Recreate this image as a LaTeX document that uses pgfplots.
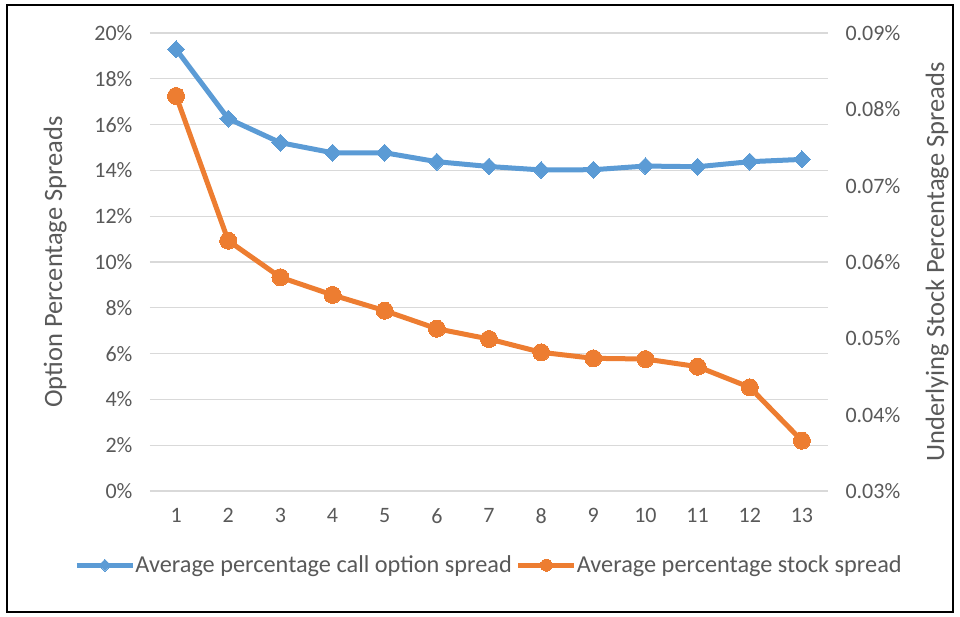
\documentclass[border=0pt]{standalone}
\usepackage{pgfplots}
\pgfplotsset{compat=1.18}
\usepackage{fontspec}
\setmainfont{Carlito}

\definecolor{callblue}{HTML}{5B9BD5}
\definecolor{stockorange}{HTML}{ED7D31}
\definecolor{txtgray}{HTML}{595959}
\definecolor{gridgray}{HTML}{D9D9D9}

% average percentage call option spread (left axis, %)
\pgfplotstableread{
x  y
1  19.29
2  16.26
3  15.21
4  14.77
5  14.77
6  14.38
7  14.17
8  14.02
9  14.03
10 14.19
11 14.16
12 14.38
13 14.48
}\calltable

% average percentage stock spread (right axis, %)
\pgfplotstableread{
x  y
1  0.08175
2  0.06279
3  0.05800
4  0.05568
5  0.05362
6  0.05126
7  0.04991
8  0.04817
9  0.04738
10 0.04729
11 0.04629
12 0.04358
13 0.03659
}\stocktable

\pgfplotsset{
  chartbase/.style={
    scale only axis,
    width=678pt, height=458pt,
    at={(0pt,0pt)}, anchor=south west,
    xmin=0.5, xmax=13.5,
    axis line style={draw=none},
    major tick length=0pt,
    tick label style={font=\fontsize{22}{26}\selectfont, text=txtgray},
    label style={font=\fontsize{26.5}{30}\selectfont, text=txtgray},
    /pgf/number format/assume math mode=true,
  },
  callstyle/.style={callblue, line width=5pt, line join=round,
    mark=square*, mark size=6pt,
    mark options={rotate=45, line width=0pt, fill=callblue}},
  stockstyle/.style={stockorange, line width=5pt, line join=round,
    mark=*, mark size=8.5pt,
    mark options={line width=0pt, fill=stockorange}},
}

\begin{document}
\begin{tikzpicture}
\useasboundingbox (-150pt,-126pt) rectangle (810pt,491pt);
\draw[black, line width=1.6pt] (-143pt,-121pt) rectangle (803pt,486pt);

\begin{axis}[
  chartbase,
  ymin=0, ymax=20,
  ytick={0,2,...,20},
  xtick={1,...,13},
  ymajorgrids,
  grid style={gridgray, line width=1.2pt},
  yticklabel={\pgfmathprintnumber{\tick}\%},
  yticklabel style={xshift=-14pt},
  xticklabel style={yshift=-14pt},
  ylabel={Option Percentage Spreads},
  ylabel style={at={(axis description cs:-0.140,0.5)}, anchor=center, rotate=0},
]
\addplot[callstyle] table[x=x, y=y] {\calltable};
\end{axis}

\begin{axis}[
  chartbase,
  axis x line=none,
  axis y line*=right,
  ymin=0.03, ymax=0.09,
  ytick={0.03,0.04,0.05,0.06,0.07,0.08,0.09},
  scaled y ticks=false,
  yticklabel={\pgfmathprintnumber[fixed,fixed zerofill,precision=2]{\tick}\%},
  yticklabel style={xshift=14pt},
  ylabel={Underlying Stock Percentage Spreads},
  ylabel style={at={(axis description cs:1.161,0.5)}, anchor=center, rotate=0},
  legend columns=2,
  legend style={
    at={(axis description cs:0.5,-0.162)}, anchor=center,
    draw=none, fill=none,
    font=\fontsize{24.3}{28}\selectfont, text=txtgray,
    /tikz/every even column/.append style={column sep=2pt},
    /tikz/every odd column/.append style={column sep=-2pt},
  },
  legend image code/.code={
    \draw[#1, mark=none] (0pt,0pt) -- (56pt,0pt);
    \path[#1, every mark/.append style={scale=0.7}] plot coordinates {(28pt,0pt)};
  },
]
\addlegendimage{callstyle}
\addlegendentry{Average percentage call option spread}
\addplot[stockstyle] table[x=x, y=y] {\stocktable};
\addlegendentry{Average percentage stock spread}
\end{axis}
\end{tikzpicture}
\end{document}
